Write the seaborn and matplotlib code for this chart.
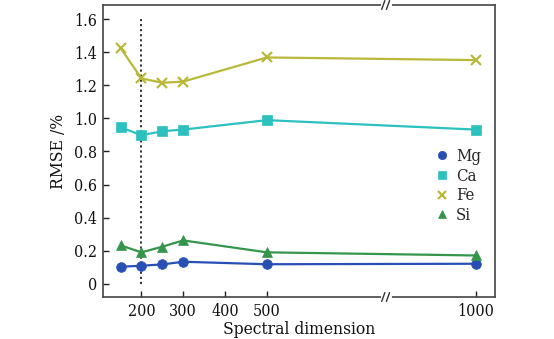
import numpy as np
import pandas as pd
import matplotlib
matplotlib.use("Agg")
import matplotlib.pyplot as plt
import seaborn as sns

# Spectral dimensions and RMSE (%) of each element
dims = [150, 200, 250, 300, 500, 1000]
mg = [0.103, 0.109, 0.117, 0.133, 0.118, 0.121]
ca = [0.946, 0.898, 0.922, 0.932, 0.989, 0.932]
fe = [1.425, 1.241, 1.215, 1.222, 1.368, 1.352]
si = [0.232, 0.190, 0.224, 0.262, 0.190, 0.171]
elements = ["Mg", "Ca", "Fe", "Si"]
xticks = [200, 300, 400, 500, 1000]
yticks = [0, 0.2, 0.4, 0.6, 0.8, 1.0, 1.2, 1.4, 1.6]
ytick_labels = ["0", "0.2", "0.4", "0.6", "0.8", "1.0", "1.2", "1.4", "1.6"]

series = {"Mg": mg, "Ca": ca, "Fe": fe, "Si": si}
palette = {"Mg": "#2850b4", "Ca": "#2cc0bf", "Fe": "#b8b93a", "Si": "#35954a"}
markers = {"Mg": "o", "Ca": "s", "Fe": "x", "Si": "^"}

sns.set_theme(style="ticks")
plt.rcParams["font.family"] = ["DejaVu Serif"]
plt.rcParams["font.stretch"] = "condensed"

fig = plt.figure(figsize=(5.54, 3.39), dpi=100)
ax = fig.add_axes([103 / 554, 1 - 297 / 339, (495 - 103) / 554, (297 - 5) / 339])

# Dotted marker at the chosen dimension
ax.plot([200, 200], [0, 1.6], ls=(0, (1.2, 1.6)), color="#222222", lw=1.3, zorder=1)

for el in elements:
    d = pd.DataFrame({"dim": dims, "rmse": series[el]})
    cross = markers[el] == "x"
    sns.lineplot(data=d, x="dim", y="rmse", color=palette[el], marker=markers[el],
                 markersize=7, linewidth=1.6, label=el, ax=ax, zorder=3,
                 markeredgewidth=1.6 if cross else 0.5,
                 markeredgecolor=palette[el])

ax.set_xlim(108, 1046)
ax.set_ylim(-0.08, 1.685)
ax.set_xticks(xticks)
ax.set_yticks(yticks)
ax.set_yticklabels(ytick_labels)
ax.tick_params(direction="in", length=4, width=1, labelsize=11.5, colors="#222222",
               labelcolor="#111111", pad=4)
ax.set_xlabel("Spectral dimension", fontsize=12.5, color="#111111", labelpad=1)
ax.set_ylabel("RMSE /%", fontsize=12.5, color="#111111", labelpad=5)
for s in ax.spines.values():
    s.set_color("#444444")
    s.set_linewidth(1.2)

# Axis break marks on the top and bottom spines
bx = 0.719
tr = ax.transAxes
for yb in (0.0, 1.0):
    ax.plot([bx - 0.004, bx + 0.014], [yb, yb], color="white", lw=3,
            transform=tr, clip_on=False, zorder=5)
    for dx in (-0.004, 0.008):
        ax.plot([bx + dx - 0.004, bx + dx + 0.004], [yb - 0.015, yb + 0.015],
                color="#333333", lw=1.0, transform=tr, clip_on=False, zorder=6)

leg = ax.legend(loc="center left", bbox_to_anchor=(0.8, 0.38), frameon=False,
                fontsize=12, handletextpad=0.25, labelspacing=0.16,
                handlelength=1.2)
for h in leg.legend_handles:
    h.set_linestyle("none")
    h.set_markersize(6)

fig.savefig("out.png", dpi=100)
